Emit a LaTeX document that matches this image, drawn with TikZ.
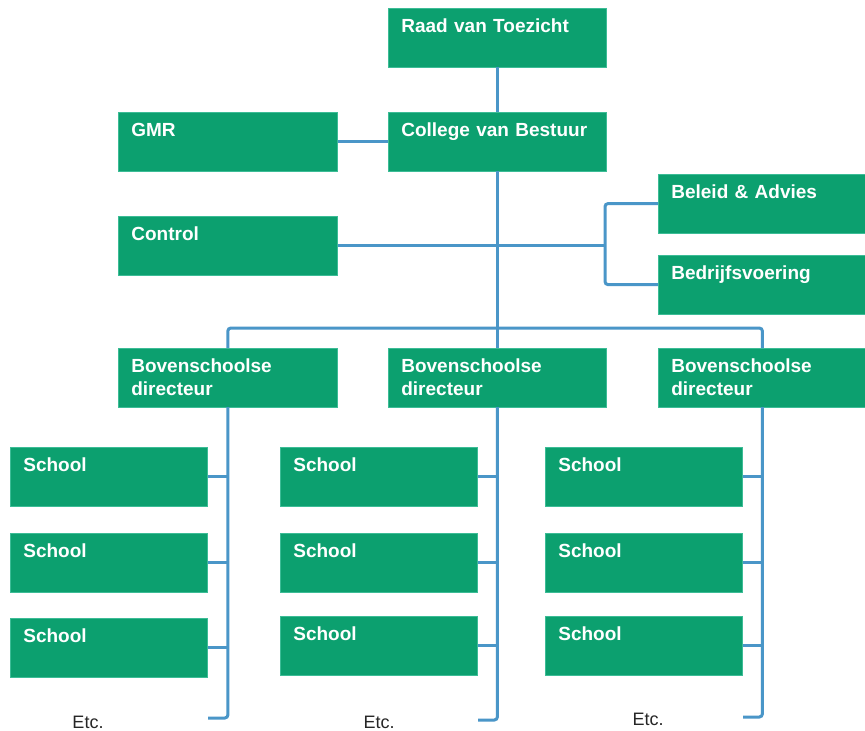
\documentclass[tikz,border=0pt]{standalone}
\usepackage{fontspec}
\setmainfont{Liberation Sans}
\definecolor{orggreen}{RGB}{12,160,111}
\definecolor{orgedge}{RGB}{60,188,150}
\definecolor{orgblue}{RGB}{74,150,200}
\tikzset{
  orgbox/.style={rectangle, fill=orggreen, draw=orgedge, line width=0.7pt,
    anchor=north west, inner xsep=13pt, inner ysep=0pt, text width=#1,
    text height=24pt, text depth=34.5pt, align=left, text=white,
    font=\bfseries\fontsize{19}{23}\selectfont},
  conn/.style={draw=orgblue, line width=3pt, rounded corners=3pt},
  etc/.style={anchor=base, inner sep=0pt, font=\fontsize{18}{21}\selectfont, text=black!85}
}
\begin{document}
\begin{tikzpicture}[x=1pt,y=-1pt]
\fill[white] (0,0) rectangle (865,731);
\useasboundingbox (0,0) rectangle (865,731);
% top
\node[orgbox=192pt] (raad) at (388,8) {Raad van Toezicht};
\node[orgbox=192pt] (college) at (388,112) {College van Bestuur};
\node[orgbox=193pt] (gmr) at (118,112) {GMR};
\node[orgbox=193pt] (control) at (118,216) {Control};
\node[orgbox=182pt] (beleid) at (658,174) {Beleid \& Advies};
\node[orgbox=182pt] (bedrijf) at (658,255) {Bedrijfsvoering};
% directors
\node[orgbox=193pt] (dir1) at (118,348) {Bovenschoolse\\directeur};
\node[orgbox=192pt] (dir2) at (388,348) {Bovenschoolse\\directeur};
\node[orgbox=182pt] (dir3) at (658,348) {Bovenschoolse\\directeur};
% schools
\node[orgbox=171pt] (s11) at (10,447) {School};
\node[orgbox=171pt] (s12) at (10,533) {School};
\node[orgbox=171pt] (s13) at (10,618) {School};
\node[orgbox=171pt] (s21) at (280,447) {School};
\node[orgbox=171pt] (s22) at (280,533) {School};
\node[orgbox=171pt] (s23) at (280,616) {School};
\node[orgbox=171pt] (s31) at (545,447) {School};
\node[orgbox=171pt] (s32) at (545,533) {School};
\node[orgbox=171pt] (s33) at (545,616) {School};
% etc labels
\node[etc] (etc1) at (88,728) {Etc.};
\node[etc] (etc2) at (379,728) {Etc.};
\node[etc] (etc3) at (648,725) {Etc.};
% helper coordinates
\coordinate (brk) at (605,0);
\coordinate (bus) at (0,328);
\coordinate (end1) at (208,718);
\coordinate (end2) at (478,720);
\coordinate (end3) at (743,717);
% connectors
\draw[conn] (raad.south) -- (college.north);
\draw[conn] (gmr.east) -- (gmr.east -| college.west);
\draw[conn] (college.south) -- (dir2.north);
\draw[conn] (control.east) -- (control.east -| brk);
\draw[conn] (beleid.west) -- (beleid.west -| brk) -- (bedrijf.west -| brk) -- (bedrijf.west);
\draw[conn] (dir1.north) -- (dir1.north |- bus) -- (dir3.north |- bus) -- (dir3.north);
\draw[conn] (dir1.south) -- (dir1.south |- end1) -- (end1);
\draw[conn] (dir2.south) -- (dir2.south |- end2) -- (end2);
\draw[conn] (dir3.south) -- (dir3.south |- end3) -- (end3);
\foreach \s in {s11,s12,s13} \draw[conn] (\s.east) -- (\s.east -| dir1.south);
\foreach \s in {s21,s22,s23} \draw[conn] (\s.east) -- (\s.east -| dir2.south);
\foreach \s in {s31,s32,s33} \draw[conn] (\s.east) -- (\s.east -| dir3.south);
\end{tikzpicture}
\end{document}
